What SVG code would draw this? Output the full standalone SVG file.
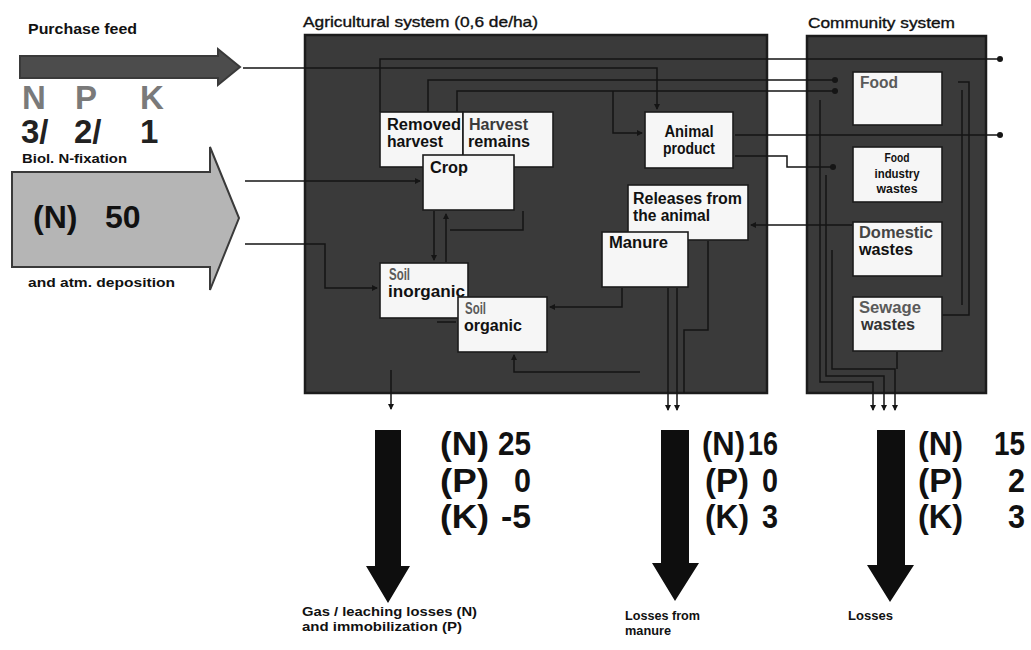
<svg xmlns="http://www.w3.org/2000/svg" width="1031" height="650" viewBox="0 0 1031 650">
<defs>
<style>
.t{font-family:"Liberation Sans",Arial,sans-serif;fill:#111}
.s{font-size:14px;font-weight:bold}
.n{font-size:16px;font-weight:bold}
.g{fill:#5a5a5a}
.big{font-size:33px;font-weight:bold}
.box{fill:#f6f6f6;stroke:#1c1c1c;stroke-width:1.6}
.sys{fill:#3a3a3a;stroke:#1c1c1c;stroke-width:2.5}
.c{fill:none;stroke:#151515;stroke-width:1.5}
.down{fill:#0e0e0e}
</style>
<marker id="ah" viewBox="0 0 6 6" refX="5" refY="3" markerWidth="6" markerHeight="6" markerUnits="userSpaceOnUse" orient="auto"><path d="M0,0L6,3L0,6z" fill="#151515"/></marker>
<marker id="dot" viewBox="0 0 6 6" refX="3" refY="3" markerWidth="6" markerHeight="6" markerUnits="userSpaceOnUse"><circle cx="3" cy="3" r="3" fill="#151515"/></marker>
</defs>
<rect width="1031" height="650" fill="#ffffff"/>

<g id="purchase-feed">
<text class="t s" x="28" y="34" textLength="109" lengthAdjust="spacingAndGlyphs">Purchase feed</text>
<path d="M20,56 H218 V49 L240,67 L218,85 V78 H20 Z" fill="#4c4c4c" stroke="#3a3a3a" stroke-width="2"/>
<text class="t big" x="22" y="109" style="fill:#7a7a7a">N</text>
<text class="t big" x="75" y="109" style="fill:#7a7a7a">P</text>
<text class="t big" x="140" y="109" style="fill:#7a7a7a">K</text>
<text class="t big" x="21" y="143" style="fill:#222">3/</text>
<text class="t big" x="74" y="143" style="fill:#222">2/</text>
<text class="t big" x="140" y="143" style="fill:#222">1</text>
</g>

<g id="n-fixation">
<text class="t" x="22" y="163" font-size="13" font-weight="bold" textLength="105" lengthAdjust="spacingAndGlyphs">Biol. N-fixation</text>
<path d="M12,172 H210 V147 L239,218 L210,290 V267 H12 Z" fill="#b5b5b5" stroke="#3a3a3a" stroke-width="2"/>
<text class="t" x="33" y="228" font-size="32" font-weight="bold">(N)</text>
<text class="t" x="105" y="228" font-size="32" font-weight="bold">50</text>
<text class="t" x="28" y="287" font-size="13" font-weight="bold" textLength="147" lengthAdjust="spacingAndGlyphs">and atm. deposition</text>
</g>

<g id="agricultural-system">
<text class="t" x="303" y="27" font-size="15" stroke="#111" stroke-width="0.35" textLength="235" lengthAdjust="spacingAndGlyphs">Agricultural system (0,6 de/ha)</text>
<rect class="sys" x="305" y="35" width="462" height="358"/>
</g>

<g id="community-system">
<text class="t" x="808" y="28" font-size="15" stroke="#111" stroke-width="0.35" textLength="147" lengthAdjust="spacingAndGlyphs">Community system</text>
<rect class="sys" x="807" y="36" width="179" height="357"/>
</g>

<g id="connectors">
<path class="c" d="M243,68 H657 V109" marker-end="url(#ah)"/>
<path class="c" d="M245,181 H420" marker-end="url(#ah)"/>
<path class="c" d="M245,244 H325 V288 H377" marker-end="url(#ah)"/>
<path class="c" d="M380,112 V59 H1000" marker-end="url(#dot)"/>
<path class="c" d="M428,112 V80 H835" marker-end="url(#dot)"/>
<path class="c" d="M457,112 V91 H835" marker-end="url(#dot)"/>
<path class="c" d="M613,91 V133 H642" marker-end="url(#ah)"/>
<path class="c" d="M735,135 H1000" marker-end="url(#dot)"/>
<path class="c" d="M735,156 H787 V167 H833" marker-end="url(#dot)"/>
<path class="c" d="M852,225 H751" marker-end="url(#ah)"/>
<path class="c" d="M434,211 V260" marker-end="url(#ah)"/>
<path class="c" d="M446,262 V214" marker-end="url(#ah)"/>
<path class="c" d="M523,211 V230 H450"/>
<path class="c" d="M437,322 H456"/>
<path class="c" d="M622,288 V307 H550" marker-end="url(#ah)"/>
<path class="c" d="M640,372 H514 V355" marker-end="url(#ah)"/>
<path class="c" d="M391,370 V409" marker-end="url(#ah)"/>
<path class="c" d="M668,288 V410" marker-end="url(#ah)"/>
<path class="c" d="M677,288 V410" marker-end="url(#ah)"/>
<path class="c" d="M708,241 V330 H684 V393"/>
<path class="c" d="M820,100 V382 H873 V410" marker-end="url(#ah)"/>
<path class="c" d="M826,175 V376 H884 V410" marker-end="url(#ah)"/>
<path class="c" d="M832,250 V369 H895 V410" marker-end="url(#ah)"/>
<path class="c" d="M897,352 V369"/>
<path class="c" d="M942,315 H969 V82 H958"/>
<path class="c" d="M962,90 V305"/>
</g>

<g id="removed-harvest">
<rect class="box" x="380" y="112" width="83" height="55"/>
<text class="t n" x="387" y="130" textLength="74" lengthAdjust="spacingAndGlyphs">Removed</text>
<text class="t n" x="387" y="147" textLength="56" lengthAdjust="spacingAndGlyphs">harvest</text>
</g>
<g id="harvest-remains">
<rect class="box" x="463" y="112" width="90" height="55"/>
<text class="t n" x="469" y="130" textLength="59" lengthAdjust="spacingAndGlyphs" style="fill:#3a3a3a">Harvest</text>
<text class="t n" x="468" y="147" textLength="62" lengthAdjust="spacingAndGlyphs">remains</text>
</g>
<g id="crop">
<rect class="box" x="423" y="155" width="91" height="55"/>
<text class="t n" x="430" y="173" textLength="38" lengthAdjust="spacingAndGlyphs">Crop</text>
</g>
<g id="animal-product">
<rect class="box" x="645" y="112" width="88" height="56"/>
<text class="t n" x="689" y="137" text-anchor="middle" textLength="49" lengthAdjust="spacingAndGlyphs">Animal</text>
<text class="t n" x="689" y="154" text-anchor="middle" textLength="52" lengthAdjust="spacingAndGlyphs">product</text>
</g>
<g id="releases-from-animal">
<rect class="box" x="628" y="185" width="120" height="55"/>
<text class="t n" x="633" y="204" textLength="109" lengthAdjust="spacingAndGlyphs">Releases from</text>
<text class="t n" x="633" y="221" textLength="77" lengthAdjust="spacingAndGlyphs">the animal</text>
</g>
<g id="manure">
<rect class="box" x="602" y="232" width="86" height="55"/>
<text class="t n" x="609" y="248" textLength="59" lengthAdjust="spacingAndGlyphs">Manure</text>
</g>
<g id="soil-inorganic">
<rect class="box" x="380" y="263" width="88" height="55"/>
<text class="t n g" x="389" y="280" textLength="21" lengthAdjust="spacingAndGlyphs">Soil</text>
<text class="t n" x="388" y="297" textLength="77" lengthAdjust="spacingAndGlyphs">inorganic</text>
</g>
<g id="soil-organic">
<rect class="box" x="458" y="297" width="89" height="55"/>
<text class="t n g" x="465" y="314" textLength="21" lengthAdjust="spacingAndGlyphs">Soil</text>
<text class="t n" x="464" y="331" textLength="58" lengthAdjust="spacingAndGlyphs">organic</text>
</g>
<g id="food">
<rect class="box" x="853" y="72" width="89" height="53"/>
<text class="t n g" x="860" y="88" textLength="38" lengthAdjust="spacingAndGlyphs">Food</text>
</g>
<g id="food-industry-wastes">
<rect class="box" x="853" y="147" width="89" height="55"/>
<text class="t" x="897" y="162" font-size="12" font-weight="bold" text-anchor="middle" textLength="25" lengthAdjust="spacingAndGlyphs">Food</text>
<text class="t" x="897" y="178" font-size="12" font-weight="bold" text-anchor="middle" textLength="45" lengthAdjust="spacingAndGlyphs">industry</text>
<text class="t" x="897" y="193" font-size="12" font-weight="bold" text-anchor="middle" textLength="41" lengthAdjust="spacingAndGlyphs">wastes</text>
</g>
<g id="domestic-wastes">
<rect class="box" x="853" y="222" width="89" height="54"/>
<text class="t n" x="859" y="238" textLength="74" lengthAdjust="spacingAndGlyphs" style="fill:#444">Domestic</text>
<text class="t n" x="859" y="255" textLength="54" lengthAdjust="spacingAndGlyphs">wastes</text>
</g>
<g id="sewage-wastes">
<rect class="box" x="853" y="297" width="89" height="54"/>
<text class="t n g" x="859" y="313" textLength="62" lengthAdjust="spacingAndGlyphs">Sewage</text>
<text class="t n" x="861" y="330" textLength="54" lengthAdjust="spacingAndGlyphs" style="fill:#333">wastes</text>
</g>

<g id="loss-soil">
<path class="down" d="M375,430 H401 V566 H410 L388,603 L366,566 H375 Z"/>
<text class="t big" x="440" y="455" textLength="49" lengthAdjust="spacingAndGlyphs">(N)</text>
<text class="t big" x="531" y="455" text-anchor="end" textLength="33" lengthAdjust="spacingAndGlyphs">25</text>
<text class="t big" x="440" y="492" textLength="49" lengthAdjust="spacingAndGlyphs">(P)</text>
<text class="t big" x="531" y="492" text-anchor="end" textLength="17" lengthAdjust="spacingAndGlyphs">0</text>
<text class="t big" x="440" y="528" textLength="49" lengthAdjust="spacingAndGlyphs">(K)</text>
<text class="t big" x="531" y="528" text-anchor="end" textLength="30" lengthAdjust="spacingAndGlyphs">-5</text>
<text class="t" x="302" y="616" font-size="13" font-weight="bold" textLength="175" lengthAdjust="spacingAndGlyphs">Gas / leaching losses (N)</text>
<text class="t" x="302" y="631" font-size="13" font-weight="bold" textLength="160" lengthAdjust="spacingAndGlyphs">and immobilization (P)</text>
</g>

<g id="loss-manure">
<path class="down" d="M661,430 H689 V563 H699 L675,601 L652,563 H661 Z"/>
<text class="t big" x="702" y="455" textLength="43" lengthAdjust="spacingAndGlyphs">(N)</text>
<text class="t big" x="778" y="455" text-anchor="end" textLength="30" lengthAdjust="spacingAndGlyphs">16</text>
<text class="t big" x="705" y="492" textLength="44" lengthAdjust="spacingAndGlyphs">(P)</text>
<text class="t big" x="778" y="492" text-anchor="end" textLength="16" lengthAdjust="spacingAndGlyphs">0</text>
<text class="t big" x="705" y="528" textLength="44" lengthAdjust="spacingAndGlyphs">(K)</text>
<text class="t big" x="778" y="528" text-anchor="end" textLength="16" lengthAdjust="spacingAndGlyphs">3</text>
<text class="t" x="625" y="620" font-size="13" font-weight="bold" textLength="75" lengthAdjust="spacingAndGlyphs">Losses from</text>
<text class="t" x="625" y="635" font-size="13" font-weight="bold" textLength="46" lengthAdjust="spacingAndGlyphs">manure</text>
</g>

<g id="loss-community">
<path class="down" d="M877,430 H905 V565 H914 L890,602 L867,565 H877 Z"/>
<text class="t big" x="918" y="455" textLength="45" lengthAdjust="spacingAndGlyphs">(N)</text>
<text class="t big" x="1025" y="455" text-anchor="end" textLength="31" lengthAdjust="spacingAndGlyphs">15</text>
<text class="t big" x="918" y="492" textLength="45" lengthAdjust="spacingAndGlyphs">(P)</text>
<text class="t big" x="1025" y="492" text-anchor="end" textLength="17" lengthAdjust="spacingAndGlyphs">2</text>
<text class="t big" x="918" y="528" textLength="45" lengthAdjust="spacingAndGlyphs">(K)</text>
<text class="t big" x="1025" y="528" text-anchor="end" textLength="17" lengthAdjust="spacingAndGlyphs">3</text>
<text class="t" x="848" y="620" font-size="13" font-weight="bold" textLength="45" lengthAdjust="spacingAndGlyphs">Losses</text>
</g>
</svg>
